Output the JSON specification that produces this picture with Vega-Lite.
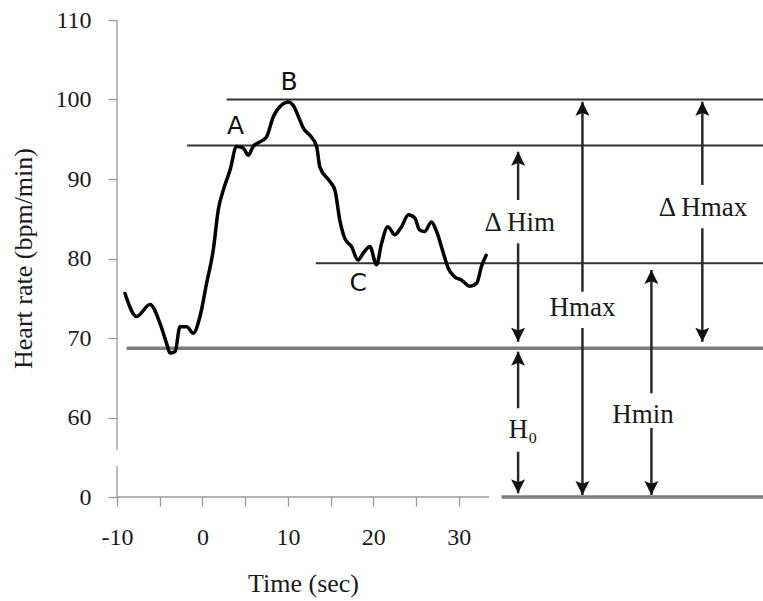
{
  "$schema": "https://vega.github.io/schema/vega-lite/v6.json",
  "width": 646,
  "height": 477,
  "autosize": "none",
  "padding": {"left": 117, "top": 20, "right": 0, "bottom": 104},
  "background": "white",
  "config": {"view": {"stroke": null}, "font": "Liberation Serif"},
  "datasets": {
    "curve": [
      {"t": -9.06, "hr": 75.6}, {"t": -7.7, "hr": 72.7}, {"t": -6.14, "hr": 74.2}, {"t": -4.97, "hr": 71.85},
      {"t": -4.19, "hr": 69.3}, {"t": -3.8, "hr": 68.1}, {"t": -3.2, "hr": 68.3}, {"t": -2.63, "hr": 71.4},
      {"t": -1.85, "hr": 71.4}, {"t": -1.07, "hr": 70.6}, {"t": -0.29, "hr": 72.7}, {"t": 0.49, "hr": 76.9},
      {"t": 1.27, "hr": 81.1}, {"t": 1.85, "hr": 86.1}, {"t": 2.44, "hr": 88.6}, {"t": 3.22, "hr": 91.1},
      {"t": 4.0, "hr": 94.1}, {"t": 4.77, "hr": 93.9}, {"t": 5.36, "hr": 93.0}, {"t": 5.94, "hr": 94.1},
      {"t": 7.1, "hr": 94.9}, {"t": 7.5, "hr": 95.3}, {"t": 8.28, "hr": 97.8}, {"t": 9.26, "hr": 99.3},
      {"t": 10.04, "hr": 99.7}, {"t": 10.6, "hr": 99.3}, {"t": 11.4, "hr": 97.4}, {"t": 11.8, "hr": 96.4},
      {"t": 12.57, "hr": 95.5}, {"t": 13.36, "hr": 94.1}, {"t": 13.74, "hr": 91.5}, {"t": 14.9, "hr": 89.7},
      {"t": 15.5, "hr": 88.6}, {"t": 16.08, "hr": 84.8}, {"t": 16.67, "hr": 82.5}, {"t": 17.45, "hr": 81.5},
      {"t": 18.2, "hr": 79.8}, {"t": 18.8, "hr": 80.65}, {"t": 19.6, "hr": 81.5}, {"t": 20.37, "hr": 79.2},
      {"t": 20.96, "hr": 81.9}, {"t": 21.7, "hr": 84.0}, {"t": 22.5, "hr": 83.0}, {"t": 23.3, "hr": 84.0},
      {"t": 24.1, "hr": 85.5}, {"t": 24.85, "hr": 85.1}, {"t": 25.4, "hr": 83.6}, {"t": 26.0, "hr": 83.4},
      {"t": 26.8, "hr": 84.6}, {"t": 27.4, "hr": 83.4}, {"t": 28.2, "hr": 80.65}, {"t": 28.75, "hr": 78.8},
      {"t": 29.5, "hr": 77.7}, {"t": 30.3, "hr": 77.3}, {"t": 31.3, "hr": 76.5}, {"t": 32.1, "hr": 76.9},
      {"t": 32.65, "hr": 79.0}, {"t": 33.2, "hr": 80.4}
    ],
    "axisLines": [
      {"x": -10, "x2": -10, "y": 55.9, "y2": 110},
      {"x": -10, "x2": -10, "y": 50, "y2": 53.9},
      {"x": -10, "x2": 33.54, "y": 50, "y2": 50}
    ],
    "levels": [
      {"name": "Hmax level", "x": 2.83, "x2": 65.6, "y": 100.0},
      {"name": "Him level", "x": -1.8, "x2": 65.6, "y": 94.2},
      {"name": "Hmin level", "x": 13.27, "x2": 65.6, "y": 79.4}
    ],
    "baselines": [
      {"name": "H0 level", "x": -8.87, "x2": 65.6, "y": 68.7},
      {"name": "zero", "x": 35.0, "x2": 65.6, "y": 50}
    ],
    "shafts": [
      {"arrow": "dHim up", "x": 36.94, "y": 87.36, "y2": 93.43},
      {"arrow": "dHim down", "x": 36.94, "y": 81.91, "y2": 69.53},
      {"arrow": "Hmax up", "x": 44.47, "y": 75.82, "y2": 99.72},
      {"arrow": "Hmax down", "x": 44.47, "y": 71.26, "y2": 50.25},
      {"arrow": "Hmin up", "x": 52.54, "y": 63.04, "y2": 78.55},
      {"arrow": "Hmin down", "x": 52.54, "y": 58.68, "y2": 50.25},
      {"arrow": "dHmax up", "x": 58.5, "y": 89.25, "y2": 99.72},
      {"arrow": "dHmax down", "x": 58.5, "y": 83.8, "y2": 69.53},
      {"arrow": "H0 up", "x": 36.94, "y": 61.16, "y2": 68.28},
      {"arrow": "H0 down", "x": 36.94, "y": 55.7, "y2": 50.46}
    ],
    "heads": [
      {"x": 36.94, "y": 93.43, "dir": "up"},
      {"x": 36.94, "y": 69.53, "dir": "down"},
      {"x": 44.47, "y": 99.72, "dir": "up"},
      {"x": 44.47, "y": 50.25, "dir": "down"},
      {"x": 52.54, "y": 78.55, "dir": "up"},
      {"x": 52.54, "y": 50.25, "dir": "down"},
      {"x": 58.5, "y": 99.72, "dir": "up"},
      {"x": 58.5, "y": 69.53, "dir": "down"},
      {"x": 36.94, "y": 68.28, "dir": "up"},
      {"x": 36.94, "y": 50.46, "dir": "down"}
    ],
    "labels": [
      {"text": "Δ Him", "x": 37.13, "y": 84.43},
      {"text": "Δ Hmax", "x": 58.57, "y": 86.31},
      {"text": "Hmax", "x": 44.47, "y": 73.74},
      {"text": "H₀", "x": 37.5, "y": 58.43},
      {"text": "Hmin", "x": 51.56, "y": 60.31}
    ],
    "points": [
      {"text": "A", "x": 3.88, "y": 96.67},
      {"text": "B", "x": 10.15, "y": 102.16},
      {"text": "C", "x": 18.22, "y": 76.88}
    ]
  },
  "layer": [
    {
      "data": {"name": "axisLines"},
      "mark": {"type": "rule", "color": "#9a9a9a", "strokeWidth": 1.3},
      "encoding": {
        "x": {"field": "x", "type": "quantitative", "scale": {"domain": [-10, 65.6], "nice": false, "zero": false},
          "axis": {
            "values": [-10, -5, 0, 5, 10, 15, 20, 25, 30],
            "labelExpr": "datum.value % 10 == 0 ? '' + datum.value : ''",
            "domain": false, "grid": false, "ticks": true, "tickSize": 9, "tickColor": "#9a9a9a", "tickWidth": 1.3,
            "labelFont": "Liberation Serif", "labelFontSize": 24, "labelColor": "#1a1a1a", "labelPadding": 19,
            "labelFlush": false, "labelOverlap": false,
            "title": "Time (sec)", "titleFont": "Liberation Serif", "titleFontSize": 26, "titleFontWeight": "normal",
            "titleColor": "#1a1a1a", "titleX": 186, "titleY": 86, "titleAlign": "center", "titleBaseline": "middle", "titleAnchor": null
          }},
        "x2": {"field": "x2"},
        "y": {"field": "y", "type": "quantitative", "scale": {"domain": [50, 110], "nice": false, "zero": false},
          "axis": {
            "values": [50, 60, 70, 80, 90, 100, 110],
            "labelExpr": "datum.value == 50 ? '0' : datum.label",
            "domain": false, "grid": false, "ticks": true, "tickSize": 9, "tickColor": "#9a9a9a", "tickWidth": 1.3,
            "labelFont": "Liberation Serif", "labelFontSize": 24, "labelColor": "#1a1a1a", "labelPadding": 17,
            "labelFlush": false, "labelOverlap": false,
            "title": "Heart rate (bpm/min)", "titleFont": "Liberation Serif", "titleFontSize": 26, "titleFontWeight": "normal",
            "titleColor": "#1a1a1a", "titleX": -94, "titleY": 238, "titleAngle": -90, "titleAlign": "center", "titleBaseline": "middle"
          }},
        "y2": {"field": "y2"}
      }
    },
    {
      "data": {"name": "levels"},
      "mark": {"type": "rule", "color": "#333333", "strokeWidth": 2},
      "encoding": {
        "x": {"field": "x", "type": "quantitative"},
        "x2": {"field": "x2"},
        "y": {"field": "y", "type": "quantitative"}
      }
    },
    {
      "data": {"name": "baselines"},
      "mark": {"type": "rule", "color": "#7d7d7d", "strokeWidth": 3.5},
      "encoding": {
        "x": {"field": "x", "type": "quantitative"},
        "x2": {"field": "x2"},
        "y": {"field": "y", "type": "quantitative"}
      }
    },
    {
      "data": {"name": "curve"},
      "mark": {"type": "line", "color": "#000000", "strokeWidth": 3.5, "interpolate": "monotone", "strokeJoin": "round", "strokeCap": "round"},
      "encoding": {
        "x": {"field": "t", "type": "quantitative"},
        "y": {"field": "hr", "type": "quantitative"}
      }
    },
    {
      "data": {"name": "shafts"},
      "mark": {"type": "rule", "color": "#2a2a2a", "strokeWidth": 2.5},
      "encoding": {
        "x": {"field": "x", "type": "quantitative"},
        "y": {"field": "y", "type": "quantitative"},
        "y2": {"field": "y2"}
      }
    },
    {
      "data": {"name": "heads"},
      "mark": {"type": "point", "filled": true, "color": "#111111", "opacity": 1, "size": 784, "strokeWidth": 0},
      "encoding": {
        "x": {"field": "x", "type": "quantitative"},
        "y": {"field": "y", "type": "quantitative"},
        "shape": {"field": "dir", "type": "nominal", "legend": null,
          "scale": {"domain": ["up", "down"], "range": ["M0,0L0.5,1L0,0.8L-0.5,1Z", "M0,0L0.5,-1L0,-0.8L-0.5,-1Z"]}}
      }
    },
    {
      "data": {"name": "labels"},
      "mark": {"type": "text", "font": "Liberation Serif", "fontSize": 27, "color": "#1a1a1a", "align": "center", "baseline": "middle"},
      "encoding": {
        "x": {"field": "x", "type": "quantitative"},
        "y": {"field": "y", "type": "quantitative"},
        "text": {"field": "text"}
      }
    },
    {
      "data": {"name": "points"},
      "mark": {"type": "text", "font": "DejaVu Sans", "fontSize": 25, "color": "#111111", "align": "center", "baseline": "middle"},
      "encoding": {
        "x": {"field": "x", "type": "quantitative"},
        "y": {"field": "y", "type": "quantitative"},
        "text": {"field": "text"}
      }
    }
  ]
}
